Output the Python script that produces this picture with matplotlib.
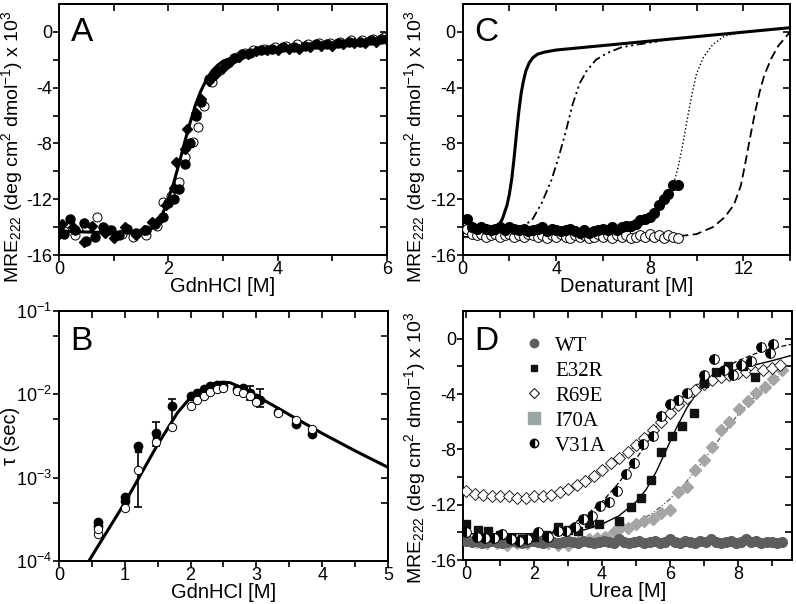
import numpy as np
from matplotlib import pyplot as plt
from matplotlib.lines import Line2D
from matplotlib import ticker

plt.rcParams['font.family'] = ['Liberation Sans', 'DejaVu Sans']
plt.rcParams['mathtext.fontset'] = 'custom'
plt.rcParams['mathtext.rm'] = 'Liberation Sans'
plt.rcParams['mathtext.it'] = 'Liberation Sans:italic'
plt.rcParams['axes.unicode_minus'] = False

MRE_LABEL = 'MRE$_{222}$ (deg cm$^{2}$ dmol$^{-1}$) x 10$^{3}$'

# ---- panel A : GdnHCl melts ----
A_circ_x = [0.0, 0.1, 0.2, 0.3, 0.45, 0.5, 0.65, 0.8, 0.95, 1.1, 1.25, 1.4, 1.6, 1.75, 1.9, 2.0, 2.1, 2.2,
            2.3, 2.4, 2.5, 2.6, 2.75, 2.9, 3.05, 3.2, 3.35, 3.5, 3.7, 3.9, 4.1, 4.3, 4.5, 4.7, 4.9, 5.1,
            5.3, 5.5, 5.7, 5.9, 6.0]
A_circ_y = [-14.0, -14.5, -13.4, -14.2, -13.7, -15.0, -14.7, -14.0, -14.2, -14.6, -14.1, -14.4, -14.2, -13.8,
            -13.3, -12.3, -12.0, -11.3, -9.5, -8.0, -6.0, -5.0, -3.4, -2.8, -2.3, -1.9, -1.6, -1.5, -1.3,
            -1.2, -1.1, -1.1, -1.0, -0.9, -0.9, -0.8, -0.7, -0.7, -0.6, -0.5, -0.5]
A_diam_x = [0.0, 0.05, 0.25, 0.45, 0.6, 0.85, 1.0, 1.2, 1.4, 1.55, 1.7, 1.85, 1.95, 2.1, 2.15, 2.3, 2.35,
            2.5, 2.6, 2.75, 2.85, 3.0, 3.15, 3.3, 3.45, 3.6, 3.8, 4.0, 4.2, 4.4, 4.6, 4.8, 5.0, 5.2, 5.4,
            5.6, 5.8, 6.0]
A_diam_y = [-14.5, -13.8, -14.0, -15.1, -13.9, -14.4, -14.8, -14.0, -14.6, -14.2, -13.6, -13.4, -12.4, -11.2,
            -9.3, -8.4, -7.0, -5.8, -4.8, -3.5, -3.1, -2.6, -2.1, -1.8, -1.6, -1.4, -1.3, -1.3, -1.2, -1.2,
            -1.1, -1.0, -1.0, -0.9, -0.8, -0.8, -0.7, -0.6]
A_open_x = [0.1, 0.3, 0.5, 0.7, 0.9, 1.15, 1.35, 1.6, 1.8, 1.9, 2.05, 2.2, 2.3, 2.45, 2.55, 2.65, 2.8, 2.95,
            3.1, 3.25, 3.4, 3.55, 3.75, 3.95, 4.15, 4.35, 4.55, 4.75, 4.95, 5.15, 5.35, 5.55, 5.75, 5.95,
            6.1]
A_open_y = [-14.3, -14.6, -14.0, -13.3, -14.2, -14.5, -14.7, -14.6, -13.9, -12.2, -11.8, -10.8, -9.0, -7.9,
            -6.8, -5.3, -3.6, -2.7, -2.2, -1.8, -1.5, -1.3, -1.2, -1.1, -1.0, -0.9, -0.9, -0.8, -0.8, -0.7,
            -0.6, -0.6, -0.5, -0.4, -0.4]
A_fit_x = [0.0, 1.0, 1.5, 1.7, 1.8, 1.9, 2.0, 2.1, 2.2, 2.3, 2.4, 2.5, 2.6, 2.7, 2.8, 2.9, 3.0, 3.2, 3.4,
           3.7, 4.0, 5.0, 6.0]
A_fit_y = [-14.3, -14.4, -14.4, -14.1, -13.7, -13.0, -12.0, -10.8, -9.4, -7.9, -6.5, -5.2, -4.2, -3.4, -2.8,
           -2.4, -2.1, -1.8, -1.6, -1.4, -1.3, -0.9, -0.5]

# ---- panel B : relaxation times ----
B_circ_x = [0.6, 0.6, 1.0, 1.0, 1.2, 1.48, 1.72, 2.0, 2.1, 2.2, 2.3, 2.4, 2.5, 2.7, 2.8, 2.9, 3.0, 3.05,
            3.33, 3.6, 3.85]
B_circ_y = [2.9e-4, 2.6e-4, 5.8e-4, 5.3e-4, 2.4e-3, 3.4e-3, 7.3e-3, 9.5e-3, 1.05e-2, 1.15e-2, 1.25e-2,
            1.3e-2, 1.25e-2, 1.15e-2, 1.2e-2, 1.05e-2, 9.0e-3, 8.5e-3, 6.1e-3, 4.4e-3, 3.3e-3]
B_open_x = [0.6, 0.6, 1.0, 1.2, 1.48, 1.72, 2.0, 2.1, 2.2, 2.3, 2.4, 2.5, 2.7, 2.8, 2.9, 3.0, 3.33, 3.6, 3.85]
B_open_y = [2.1e-4, 2.4e-4, 4.3e-4, 1.25e-3, 2.7e-3, 4.1e-3, 7.2e-3, 8.5e-3, 9.5e-3, 1.08e-2, 1.15e-2,
            1.2e-2, 1.1e-2, 1.05e-2, 9.5e-3, 8.0e-3, 6.0e-3, 4.9e-3, 3.8e-3]
B_sq_x = [0.6, 1.0, 1.2, 1.48]
B_sq_y = [2.7e-4, 5.5e-4, 2.2e-3, 2.9e-3]
B_err_x = [1.2, 1.48, 1.72, 2.9, 3.05]
B_err_y = [2.3e-3, 3.4e-3, 7.3e-3, 1.05e-2, 8.5e-3]
B_err_lo = [4.5e-4, 2.4e-3, 4.0e-3, 8.5e-3, 7.0e-3]
B_err_hi = [2.5e-3, 4.7e-3, 8.8e-3, 1.25e-2, 1.15e-2]
B_fit_x = [0.47, 1.0, 1.5, 1.8, 2.0, 2.2, 2.4, 2.5, 2.6, 2.8, 3.0, 3.5, 4.0, 4.5, 5.0]
B_fit_y = [1.05e-4, 5.0e-4, 2.5e-3, 6.0e-3, 9.2e-3, 1.2e-2, 1.38e-2, 1.4e-2, 1.38e-2, 1.18e-2, 9.6e-3,
           5.7e-3, 3.4e-3, 2.1e-3, 1.33e-3]

# ---- panel C : denaturant melts + extrapolated curves ----
C_x = [0.2, 0.4, 0.6, 0.8, 1.0, 1.2, 1.4, 1.6, 1.8, 2.0, 2.2, 2.4, 2.6, 2.8, 3.0, 3.2, 3.4, 3.6, 3.8, 4.0,
       4.2, 4.4, 4.6, 4.8, 5.0, 5.2, 5.4, 5.6, 5.8, 6.0, 6.2, 6.4, 6.6, 6.8, 7.0, 7.2, 7.4, 7.6, 7.8, 8.0,
       8.2, 8.4, 8.6, 8.8, 9.0, 9.2]
C_filled_y = [-13.4, -14.0, -14.1, -14.0, -14.1, -14.2, -14.1, -14.0, -14.2, -14.0, -14.1, -14.2, -14.1,
              -14.3, -14.2, -14.1, -14.0, -14.3, -14.1, -14.2, -14.3, -14.2, -14.1, -14.3, -14.4, -14.2,
              -14.4, -14.3, -14.2, -14.1, -14.2, -14.0, -14.2, -14.0, -13.9, -13.9, -13.8, -13.5, -13.4,
              -13.3, -13.0, -12.4, -12.0, -11.6, -11.0, -11.0]
C_open_y = [-14.1, -14.5, -14.6, -14.5, -14.7, -14.6, -14.5, -14.7, -14.6, -14.5, -14.7, -14.6, -14.7,
            -14.5, -14.6, -14.7, -14.6, -14.8, -14.6, -14.7, -14.5, -14.7, -14.8, -14.6, -14.7, -14.6,
            -14.8, -14.7, -14.5, -14.7, -14.6, -14.8, -14.6, -14.7, -14.6, -14.8, -14.7, -14.6, -14.7,
            -14.5, -14.7, -14.6, -14.8, -14.6, -14.7, -14.8]
C_solid_x = [0.0, 1.0, 1.5, 1.7, 1.9, 2.0, 2.1, 2.2, 2.3, 2.4, 2.5, 2.6, 2.7, 2.85, 3.0, 3.2, 3.5, 4.0, 14.0]
C_solid_y = [-14.4, -14.3, -14.0, -13.4, -12.4, -11.6, -10.5, -9.0, -7.3, -5.7, -4.4, -3.5, -2.8, -2.2,
             -1.85, -1.6, -1.45, -1.3, 0.3]
C_dashdot_x = [0.0, 2.5, 3.0, 3.4, 3.8, 4.1, 4.4, 4.7, 5.0, 5.3, 5.7, 6.2, 6.8, 7.5, 8.5]
C_dashdot_y = [-14.3, -14.1, -13.4, -12.2, -10.6, -9.0, -7.2, -5.2, -3.7, -2.8, -2.0, -1.5, -1.1, -0.9, -0.65]
C_dot_x = [0.0, 7.0, 8.0, 8.5, 8.8, 9.0, 9.2, 9.4, 9.6, 9.8, 10.0, 10.3, 10.7, 11.2, 12.0]
C_dot_y = [-14.2, -14.0, -13.4, -12.6, -11.8, -11.0, -9.8, -8.2, -6.3, -4.5, -3.0, -1.8, -0.9, -0.3, 0.0]
C_dash_x = [0.0, 9.0, 10.0, 10.7, 11.2, 11.6, 11.9, 12.1, 12.3, 12.5, 12.7, 12.9, 13.2, 13.5, 14.0]
C_dash_y = [-14.7, -14.7, -14.5, -14.0, -13.3, -12.4, -11.0, -9.3, -7.5, -5.8, -4.3, -3.1, -1.9, -1.0, 0.0]

# ---- panel D : urea melts of mutants ----
WT_x = [0.0, 0.15, 0.3, 0.45, 0.6, 0.75, 0.9, 1.05, 1.2, 1.35, 1.5, 1.65, 1.8, 1.95, 2.1, 2.25, 2.4, 2.55,
        2.7, 2.85, 3.0, 3.15, 3.3, 3.45, 3.6, 3.75, 3.9, 4.05, 4.2, 4.35, 4.5, 4.65, 4.8, 4.95, 5.1, 5.25,
        5.4, 5.55, 5.7, 5.85, 6.0, 6.15, 6.3, 6.45, 6.6, 6.75, 6.9, 7.05, 7.2, 7.35, 7.5, 7.65, 7.8, 7.95,
        8.1, 8.25, 8.4, 8.55, 8.7, 8.85, 9.0, 9.15, 9.3]
WT_y = [-14.6, -14.7, -14.6, -14.8, -14.7, -14.6, -14.7, -14.8, -14.7, -14.6, -14.7, -14.8, -14.7, -14.6,
        -14.7, -14.8, -14.6, -14.7, -14.8, -14.7, -14.6, -14.7, -14.8, -14.6, -14.7, -14.8, -14.7, -14.6,
        -14.7, -14.8, -14.5, -14.7, -14.8, -14.7, -14.6, -14.8, -14.7, -14.6, -14.8, -14.7, -14.5, -14.7,
        -14.8, -14.6, -14.7, -14.8, -14.6, -14.7, -14.5, -14.7, -14.8, -14.7, -14.6, -14.8, -14.7, -14.5,
        -14.7, -14.6, -14.8, -14.7, -14.7, -14.8, -14.7]
E32R_x = [0.0, 0.35, 0.65, 1.0, 1.3, 1.65, 2.0, 2.35, 2.7, 3.0, 3.3, 3.6, 3.9, 4.5, 4.85, 5.15, 5.45, 5.75,
          6.05, 6.35, 6.7, 7.0, 7.35, 7.7, 8.15, 8.5]
E32R_y = [-13.4, -13.8, -13.9, -14.2, -14.4, -14.5, -14.3, -14.2, -13.6, -13.8, -13.9, -13.3, -13.4, -13.2,
          -12.2, -11.5, -10.2, -8.2, -7.0, -6.3, -5.4, -3.2, -2.4, -2.0, -2.0, -2.8]
E32R_fit_x = [0.0, 2.0, 3.0, 3.5, 4.0, 4.5, 5.0, 5.3, 5.6, 5.9, 6.2, 6.5, 6.8, 7.1, 7.5, 8.0, 8.5, 9.0, 9.6]
E32R_fit_y = [-14.1, -14.1, -14.0, -13.8, -13.4, -12.8, -11.8, -10.9, -9.6, -8.0, -6.4, -5.0, -3.9, -3.2,
              -2.6, -2.2, -1.9, -1.6, -1.2]
R69E_x = [0.0, 0.25, 0.5, 0.75, 1.0, 1.25, 1.5, 1.75, 2.0, 2.25, 2.5, 2.75, 3.0, 3.25, 3.5, 3.75, 4.0, 4.25,
          4.5, 4.75, 5.0, 5.25, 5.5, 5.75, 6.0, 6.25, 6.5, 6.75, 7.0, 7.25, 7.5, 7.75, 8.0, 8.25, 8.5, 8.75,
          9.0, 9.25]
R69E_y = [-11.0, -11.2, -11.3, -11.4, -11.4, -11.4, -11.5, -11.5, -11.4, -11.4, -11.3, -11.1, -10.9, -10.6,
          -10.3, -9.9, -9.5, -9.0, -8.6, -8.2, -7.7, -7.2, -6.6, -6.0, -5.4, -4.8, -4.3, -3.7, -3.3, -3.0,
          -2.8, -2.6, -2.5, -2.4, -2.4, -2.3, -2.1, -1.9]
I70A_x = [0.0, 0.3, 0.6, 0.9, 1.2, 1.5, 1.8, 2.1, 2.4, 2.7, 3.0, 3.3, 3.6, 3.85, 4.1, 4.35, 4.55, 4.75, 5.0,
          5.25, 5.5, 5.75, 6.0, 6.25, 6.5, 6.75, 7.0, 7.25, 7.5, 7.75, 8.05, 8.3, 8.55, 8.8, 9.05, 9.3]
I70A_y = [-14.5, -14.7, -14.8, -14.8, -14.9, -14.8, -14.8, -14.6, -14.8, -14.9, -14.9, -14.7, -14.5, -14.4,
          -14.3, -14.0, -13.6, -13.7, -13.4, -13.2, -13.0, -12.6, -12.4, -11.1, -10.7, -9.5, -8.8, -7.8,
          -6.6, -6.0, -5.1, -4.5, -3.9, -3.5, -2.9, -2.3]
I70A_fit_x = [0.0, 3.0, 4.0, 4.5, 5.0, 5.5, 6.0, 6.5, 7.0, 7.5, 8.0, 8.5, 9.0, 9.3]
I70A_fit_y = [-14.8, -14.7, -14.3, -13.9, -13.3, -12.6, -11.6, -10.3, -8.8, -7.1, -5.5, -4.2, -3.1, -2.5]
V31A_x = [0.0, 0.3, 0.55, 0.8, 1.05, 1.3, 1.55, 1.8, 2.1, 2.4, 2.7, 2.95, 3.2, 3.45, 3.7, 3.95, 4.2, 4.45,
          4.7, 4.95, 5.2, 5.5, 5.75, 6.0, 6.25, 6.5, 7.0, 7.3, 7.6, 7.85, 8.1, 8.4, 8.7, 8.95, 9.05]
V31A_y = [-14.0, -14.3, -14.4, -14.4, -14.1, -14.5, -14.6, -14.5, -14.0, -14.3, -13.9, -13.9, -13.6, -13.0,
          -12.8, -12.1, -11.8, -11.0, -9.8, -9.0, -7.6, -7.0, -5.6, -4.7, -4.4, -3.9, -2.6, -1.5, -2.3, -2.6,
          -1.9, -1.6, -0.6, -1.0, -0.4]
V31A_fit_x = [0.0, 2.0, 2.5, 3.0, 3.5, 4.0, 4.5, 5.0, 5.5, 6.0, 6.5, 7.0, 7.5, 8.0, 8.5, 9.0, 9.6]
V31A_fit_y = [-14.3, -14.2, -14.0, -13.6, -12.8, -11.8, -10.4, -8.7, -6.9, -5.2, -3.9, -2.9, -2.2, -1.6,
              -1.1, -0.7, -0.4]
D_labels = ['WT', 'E32R', 'R69E', 'I70A', 'V31A']

TICK_FS = 13
LABEL_FS = 14.5
YLABEL_FS = 14
PANEL_FS = 24


def style_axes(ax, xmajor, xminor, ymajor, yminor, log=False):
    for s in ax.spines.values():
        s.set_linewidth(1.4)
    ax.set_xticks(xmajor)
    ax.set_xticks(xminor, minor=True)
    ax.set_yticks(ymajor)
    ax.set_yticks(yminor, minor=True)
    ax.yaxis.set_minor_formatter(ticker.NullFormatter())
    ax.tick_params(which='both', direction='out', length=4, width=1.2, labelsize=TICK_FS)
    ax.tick_params(axis='x', which='major', pad=0)
    ax.tick_params(axis='y', which='major', pad=1)
    # inner ticks on top / right, like the original plotting package
    top = ax.secondary_xaxis('top')
    top.set_xticks(xmajor)
    top.set_xticks(xminor, minor=True)
    top.tick_params(which='both', direction='in', length=5, width=1.2, labeltop=False)
    right = ax.secondary_yaxis('right')
    right.set_yticks(ymajor)
    right.set_yticks(yminor, minor=True)
    right.yaxis.set_minor_formatter(ticker.NullFormatter())
    right.tick_params(which='both', direction='in', length=5, width=1.2, labelright=False)
    for sec in (top, right):
        for s in sec.spines.values():
            s.set_linewidth(1.4)


def panel_letter(ax, letter, y=0.95):
    ax.text(0.035, y, letter, transform=ax.transAxes, fontsize=PANEL_FS, va='top', ha='left')


def plot_a(ax):
    ax.plot(A_fit_x, A_fit_y, '-', color='k', lw=2.2, zorder=3)
    ax.plot(A_circ_x, A_circ_y, 'o', color='k', ms=6.5, zorder=4)
    ax.plot(A_diam_x, A_diam_y, 'D', color='k', ms=5.5, zorder=4)
    ax.plot(A_open_x, A_open_y, 'o', mfc='none', mec='k', mew=0.7, ms=6.5, zorder=5)
    ax.set_xlim(0, 6)
    ax.set_ylim(-16, 2)
    style_axes(ax, [0, 2, 4, 6], [1, 3, 5], [-16, -12, -8, -4, 0], [-14, -10, -6, -2])
    ax.set_xlabel('GdnHCl [M]', fontsize=LABEL_FS, labelpad=-0.5)
    ax.set_ylabel(MRE_LABEL, fontsize=YLABEL_FS)
    ax.yaxis.set_label_coords(-0.105, 0.43)
    panel_letter(ax, 'A')


def plot_b(ax):
    ax.set_yscale('log')
    ax.plot(B_fit_x, B_fit_y, '-', color='k', lw=2.2, zorder=3)
    yerr = [np.array(B_err_y) - np.array(B_err_lo), np.array(B_err_hi) - np.array(B_err_y)]
    ax.errorbar(B_err_x, B_err_y, yerr=yerr, fmt='none', ecolor='k', elinewidth=1.2, capsize=3, capthick=1.2)
    ax.plot(B_circ_x, B_circ_y, 'o', color='k', ms=6, zorder=4)
    ax.plot(B_sq_x, B_sq_y, 's', color='k', ms=5, zorder=4)
    ax.plot(B_open_x, B_open_y, 'o', mfc='white', mec='k', mew=0.7, ms=6, zorder=5)
    ax.set_xlim(0, 5)
    ax.set_ylim(1e-4, 1e-1)
    style_axes(ax, [0, 1, 2, 3, 4, 5], [0.5, 1.5, 2.5, 3.5, 4.5], [1e-4, 1e-3, 1e-2, 1e-1],
               [5e-4, 5e-3, 5e-2], log=True)
    ax.yaxis.set_major_formatter(ticker.FuncFormatter(lambda v, p: '10$^{%d}$' % round(np.log10(v))))
    ax.set_xlabel('GdnHCl [M]', fontsize=LABEL_FS, labelpad=-0.5)
    ax.set_ylabel('τ (sec)', fontsize=LABEL_FS)
    ax.yaxis.set_label_coords(-0.118, 0.5)
    panel_letter(ax, 'B', y=0.94)


def plot_c(ax):
    ax.plot(C_solid_x, C_solid_y, '-', color='k', lw=2.2, zorder=3)
    ax.plot(C_dashdot_x, C_dashdot_y, color='k', lw=1.3, dashes=[5, 2, 1.2, 2, 1.2, 2], zorder=3)
    ax.plot(C_dot_x, C_dot_y, ':', color='k', lw=1.0, zorder=3)
    ax.plot(C_dash_x, C_dash_y, '--', color='k', lw=1.3, dashes=[5, 2.5], zorder=3)
    ax.plot(C_x, C_open_y, 'o', mfc='white', mec='k', mew=0.7, ms=7, zorder=4)
    ax.plot(C_x, C_filled_y, 'o', color='k', ms=7, zorder=5)
    ax.set_xlim(0, 14)
    ax.set_ylim(-16, 2)
    style_axes(ax, [0, 4, 8, 12], [2, 6, 10, 14], [-16, -12, -8, -4, 0], [-14, -10, -6, -2])
    ax.set_xlabel('Denaturant [M]', fontsize=LABEL_FS, labelpad=-0.5)
    ax.set_ylabel(MRE_LABEL, fontsize=YLABEL_FS)
    ax.yaxis.set_label_coords(-0.105, 0.43)
    panel_letter(ax, 'C')


def plot_d(ax):
    ax.plot(E32R_fit_x, E32R_fit_y, '-', color='k', lw=1.0, zorder=3)
    ax.plot(I70A_fit_x, I70A_fit_y, color='#555555', lw=0.9, dashes=[4, 1.5, 1, 1.5, 1, 1.5], zorder=3)
    ax.plot(V31A_fit_x, V31A_fit_y, color='k', lw=0.9, dashes=[4, 2], zorder=3)
    ax.plot(I70A_x, I70A_y, 'D', color='#a5a5a5', ms=6, mec='#a5a5a5', zorder=4)
    ax.plot(WT_x, WT_y, 'o', color='#5e5e5e', ms=7, zorder=4)
    ax.plot(R69E_x, R69E_y, 'D', ls=':', color='k', lw=0.8, mfc='white', mec='#222222', mew=0.7, ms=6,
            zorder=5)
    ax.plot(E32R_x, E32R_y, 's', color='#111111', ms=6, zorder=5)
    ax.plot(V31A_x, V31A_y, 'o', fillstyle='left', mfc='k', mfcalt='white', mec='k', mew=0.7, ms=7, zorder=6)
    ax.set_xlim(-0.1, 9.6)
    ax.set_ylim(-16, 2)
    style_axes(ax, [0, 2, 4, 6, 8], [1, 3, 5, 7, 9], [-16, -12, -8, -4, 0], [-14, -10, -6, -2])
    ax.set_xlabel('Urea [M]', fontsize=LABEL_FS, labelpad=-0.5)
    ax.set_ylabel(MRE_LABEL, fontsize=YLABEL_FS)
    ax.yaxis.set_label_coords(-0.105, 0.45)
    panel_letter(ax, 'D', y=0.94)

    handles = [
        Line2D([], [], ls='none', marker='o', color='#5e5e5e', ms=6),
        Line2D([], [], ls='none', marker='s', color='#111111', ms=5),
        Line2D([], [], ls='none', marker='D', mfc='white', mec='#222222', mew=0.8, ms=5),
        Line2D([], [], ls='none', marker='s', color='#9aa5a5', ms=9),
        Line2D([], [], ls='none', marker='o', fillstyle='left', mfc='k', mfcalt='white', mec='k', ms=6),
    ]
    ax.legend(handles, D_labels, loc='upper left', bbox_to_anchor=(0.14, 0.958), frameon=False,
              prop={'family': 'Liberation Serif', 'size': 15}, handlelength=1.0, handletextpad=0.5,
              labelspacing=0.26, borderpad=0.2)


if __name__ == '__main__':
    fig = plt.figure(figsize=(7.96, 6.04), dpi=100)
    ax_a = fig.add_axes([0.0741, 0.5778, 0.412, 0.4156])
    ax_c = fig.add_axes([0.5813, 0.5778, 0.4112, 0.4156])
    ax_b = fig.add_axes([0.0741, 0.0712, 0.4133, 0.4139])
    ax_d = fig.add_axes([0.5817, 0.0728, 0.4133, 0.4123])
    plot_a(ax_a)
    plot_b(ax_b)
    plot_c(ax_c)
    plot_d(ax_d)
    fig.savefig('out.png', dpi=100)
    plt.close(fig)
